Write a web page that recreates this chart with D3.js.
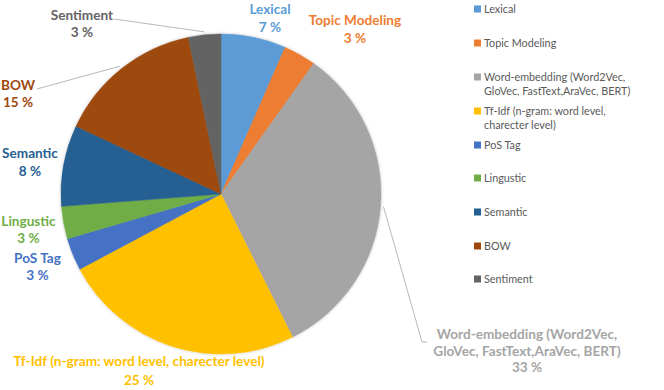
<!DOCTYPE html>
<html>
<head>
<meta charset="utf-8">
<script src="https://cdn.jsdelivr.net/npm/d3@7"></script>
<style>
  body { margin: 0; background: #fff; }
  svg { display: block; font-family: Lato, "Open Sans", sans-serif; }
</style>
</head>
<body>
<svg id="chart" width="664" height="390"></svg>
<script>
// slice data (counts, percentages come out as 7,3,33,25,3,3,8,15,3)
var categories = ['Lexical', 'Topic Modeling', 'Word-embedding (Word2Vec, GloVec, FastText,AraVec, BERT)',
    'Tf-Idf (n-gram: word level, charecter level)', 'PoS Tag', 'Lingustic', 'Semantic', 'BOW', 'Sentiment'];
var counts = [4, 2, 20, 15, 2, 2, 5, 9, 2];
var colors = ['#5b9bd5', '#ed7d31', '#a5a5a5', '#ffc000', '#4472c4', '#70ad47', '#255e91', '#9e480e', '#636363'];

// label text lines on the chart
var labelLines = [
    ['Lexical'],
    ['Topic Modeling'],
    ['Word-embedding (Word2Vec,', 'GloVec, FastText,AraVec, BERT)'],
    ['Tf-Idf (n-gram: word level, charecter level)'],
    ['PoS Tag'],
    ['Lingustic'],
    ['Semantic'],
    ['BOW'],
    ['Sentiment']
];
// legend text lines
var legendLines = [
    ['Lexical'],
    ['Topic Modeling'],
    ['Word-embedding (Word2Vec,', 'GloVec, FastText,AraVec, BERT)'],
    ['Tf-Idf (n-gram: word level,', 'charecter level)'],
    ['PoS Tag'],
    ['Lingustic'],
    ['Semantic'],
    ['BOW'],
    ['Sentiment']
];

// layout for the labels: center x, first baseline, line gap
var labelPos = [
    { x: 270, y: 14, gap: 18 },
    { x: 355, y: 25, gap: 18 },
    { x: 527, y: 339, gap: 16.5 },
    { x: 139, y: 366, gap: 18.5 },
    { x: 37.5, y: 263, gap: 17 },
    { x: 28.5, y: 226, gap: 17 },
    { x: 30, y: 158, gap: 18 },
    { x: 18, y: 90, gap: 17 },
    { x: 82, y: 20, gap: 17 }
];
// leader lines (from label end to the slice edge), only some slices have them
var leaders = {
    2: [[427, 342], [422, 342]],
    7: [[37, 89]],
    8: [[114, 19]]
};

var svg = d3.select('#chart');
var cx = 221, cy = 194, radius = 160;
var total = d3.sum(counts);

var pie = d3.pie().sort(null).value(function (d) { return d; });
var arc = d3.arc().innerRadius(0).outerRadius(radius);
var arcs = pie(counts);

var defs = svg.append('defs');
var f = defs.append('filter').attr('id', 'soft').attr('x', '-10%').attr('y', '-10%').attr('width', '120%').attr('height', '120%');
f.append('feDropShadow').attr('dx', 0).attr('dy', 0).attr('stdDeviation', 1.5).attr('flood-color', '#000').attr('flood-opacity', 0.25);

var g = svg.append('g').attr('transform', 'translate(' + cx + ',' + cy + ')');
g.append('g').attr('filter', 'url(#soft)')
    .selectAll('path')
    .data(arcs)
    .enter().append('path')
    .attr('d', arc)
    .attr('fill', function (d, i) { return colors[i]; })
    .attr('stroke', function (d, i) { return colors[i]; })
    .attr('stroke-width', 0.5);

// leader lines
arcs.forEach(function (d, i) {
    if (!leaders[i]) return;
    var mid = (d.startAngle + d.endAngle) / 2;
    var edge = [cx + Math.sin(mid) * (radius + 3), cy - Math.cos(mid) * (radius + 3)];
    var pts = leaders[i].concat([edge]);
    svg.append('path')
        .attr('d', d3.line()(pts))
        .attr('fill', 'none')
        .attr('stroke', '#a6a6a6')
        .attr('stroke-width', 0.8);
});

// data labels
var pctFmt = function (v) { return Math.round(v / total * 100) + ' %'; };
arcs.forEach(function (d, i) {
    var p = labelPos[i];
    var lines = labelLines[i].concat([pctFmt(counts[i])]);
    var t = svg.append('text')
        .attr('text-anchor', 'middle')
        .attr('font-size', 13.6)
        .attr('font-weight', 'bold')
        .attr('fill', colors[i]);
    lines.forEach(function (s, k) {
        t.append('tspan').attr('x', p.x).attr('y', p.y + k * p.gap).text(s);
    });
});

// legend
var legendY = [9, 43, 77, 111, 145, 178, 212, 246, 279];
var lg = svg.append('g');
categories.forEach(function (c, i) {
    var row = lg.append('g').attr('transform', 'translate(474,' + legendY[i] + ')');
    row.append('rect').attr('x', 0).attr('y', -3.5).attr('width', 7).attr('height', 7).attr('fill', colors[i]);
    var t = row.append('text').attr('font-size', 10.8).attr('fill', '#595959');
    legendLines[i].forEach(function (s, k) {
        t.append('tspan').attr('x', 10).attr('y', 4 + k * 14).text(s);
    });
});
</script>
</body>
</html>
